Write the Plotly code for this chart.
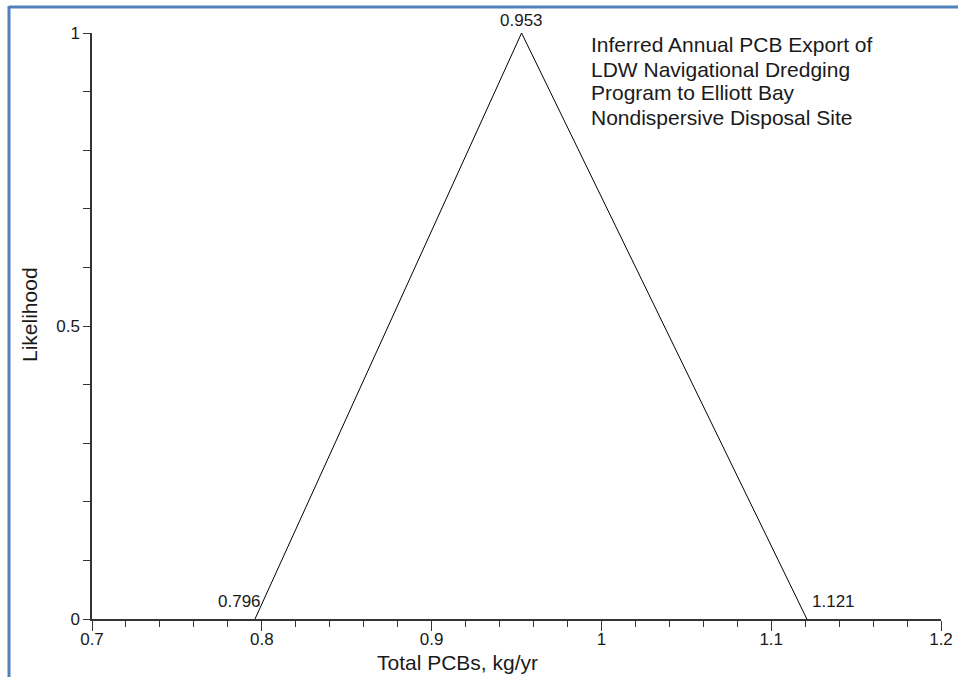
import plotly.graph_objects as go

# Triangular distribution: minimum, mode, maximum (kg/yr)
pcb_low = 0.796
pcb_mode = 0.953
pcb_high = 1.121
tri_x = [pcb_low, pcb_mode, pcb_high]
tri_y = [0, 1, 0]

x_ticks = [0.7, 0.8, 0.9, 1.0, 1.1, 1.2]
y_ticks = [0, 0.5, 1]

title_lines = [
    "Inferred Annual PCB Export of",
    "LDW Navigational Dredging",
    "Program to Elliott Bay",
    "Nondispersive Disposal Site",
]
x_title = "Total PCBs, kg/yr"
y_title = "Likelihood"

font_family = "Liberation Sans, Arial, sans-serif"
ink = "#1a1a1a"

# plot-area geometry in pixels, used to place paper-referenced items
W, H = 958, 677
L, R, T, B = 92, 17, 33, 58
PW, PH = W - L - R, H - T - B


def px_x(px):
    return (px - L) / PW


def px_y(py):
    return (H - B - py) / PH


fig = go.Figure()
fig.add_trace(go.Scatter(
    x=tri_x, y=tri_y, mode="lines",
    line=dict(color="black", width=1),
    cliponaxis=False, hoverinfo="skip", showlegend=False,
))

# vertex labels
lab_font = dict(size=17, color=ink)
fig.add_annotation(x=pcb_low, y=0, text=f"{pcb_low:.3f}", showarrow=False,
                   xanchor="right", yanchor="bottom", xshift=8, yshift=6,
                   font=lab_font)
fig.add_annotation(x=pcb_mode, y=1, text=f"{pcb_mode:.3f}", showarrow=False,
                   xanchor="center", yanchor="bottom", yshift=1,
                   font=lab_font)
fig.add_annotation(x=pcb_high, y=0, text=f"{pcb_high:.3f}", showarrow=False,
                   xanchor="left", yanchor="bottom", xshift=3, yshift=6,
                   font=lab_font)

# descriptive caption, one line per annotation
for i, line in enumerate(title_lines):
    fig.add_annotation(xref="paper", yref="paper", x=px_x(589), y=px_y(45 + 24 * i),
                       text=line, showarrow=False, xanchor="left", yanchor="middle",
                       font=dict(size=21, color=ink))

# axis titles
fig.add_annotation(xref="paper", yref="paper", x=px_x(457), y=px_y(662),
                   text=x_title, showarrow=False, xanchor="center", yanchor="middle",
                   font=dict(size=21, color=ink))
fig.add_annotation(xref="paper", yref="paper", x=px_x(29), y=px_y(315),
                   text=y_title, showarrow=False, xanchor="center", yanchor="middle",
                   textangle=-90, font=dict(size=21, color=ink))

# blue frame along top and left edges
frame = "#4F81BD"
fig.add_shape(type="line", xref="paper", yref="paper",
              x0=px_x(9), x1=px_x(962), y0=px_y(7), y1=px_y(7),
              line=dict(color=frame, width=3))
fig.add_shape(type="line", xref="paper", yref="paper",
              x0=px_x(9), x1=px_x(9), y0=px_y(6), y1=px_y(680),
              line=dict(color=frame, width=3))

axis_common = dict(
    ticks="outside", tickcolor="#333", showline=True, linecolor="#333",
    linewidth=1.5, showgrid=False, zeroline=False, automargin=False,
    tickfont=dict(size=17, color=ink),
)

fig.update_layout(
    width=W, height=H,
    margin=dict(l=L, r=R, t=T, b=B),
    paper_bgcolor="white", plot_bgcolor="white",
    font=dict(family=font_family, size=17, color=ink),
    xaxis=dict(
        range=[0.7, 1.2], tickvals=x_ticks, ticklen=10, ticklabelstandoff=-6,
        minor=dict(dtick=0.02, tick0=0.7, ticks="outside", ticklen=6, tickcolor="#333"),
        **axis_common,
    ),
    yaxis=dict(
        range=[0, 1], tickvals=y_ticks, ticklen=7,
        minor=dict(dtick=0.1, tick0=0, ticks="outside", ticklen=7, tickcolor="#333"),
        **axis_common,
    ),
)

fig.write_html("out.html")
